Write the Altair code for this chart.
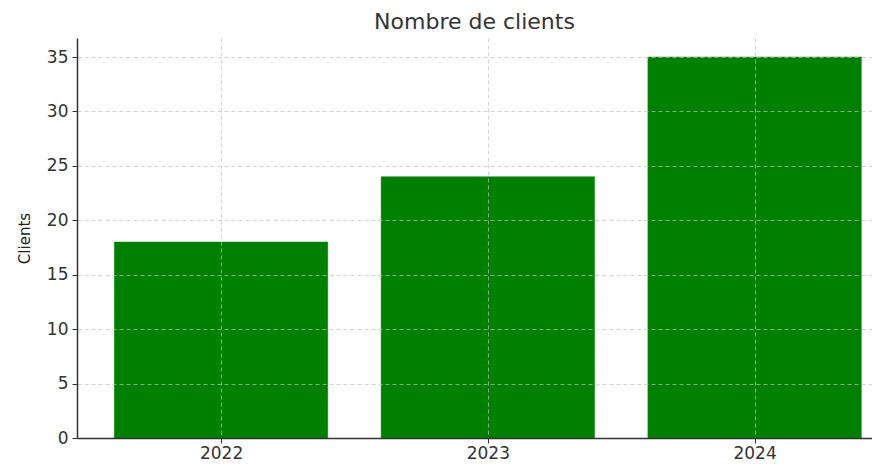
import altair as alt
import pandas as pd

years = [2022, 2023, 2024]
clients = [18, 24, 35]
y_ticks = [0, 5, 10, 15, 20, 25, 30, 35]

df = pd.DataFrame({"year": years, "clients": clients})

base = alt.Chart(df).transform_calculate(
    x0="datum.year - 0.4", x1="datum.year + 0.4"
)

bars = base.mark_bar(color="#008000", stroke="#008000", strokeWidth=0.5).encode(
    x=alt.X(
        "x0:Q",
        scale=alt.Scale(domain=[2021.46, 2024.44], nice=False, zero=False),
        axis=alt.Axis(
            values=years, format="d", title=None, grid=True,
            labelFontSize=17, labelColor="#333333", labelPadding=2,
            tickColor="#333333", tickSize=5, domainColor="#333333",
            domainWidth=1.5, gridColor="#c0c0c0", gridDash=[4, 3],
            gridOpacity=0.7, zindex=1,
        ),
    ),
    x2="x1:Q",
    y=alt.Y(
        "clients:Q",
        scale=alt.Scale(domain=[0, 36.75], nice=False),
        axis=alt.Axis(
            values=y_ticks, title="Clients", grid=True,
            labelFontSize=17, labelColor="#333333", labelPadding=4,
            tickColor="#333333", tickSize=5, domainColor="#333333",
            domainWidth=1.5, gridColor="#c0c0c0", gridDash=[4, 3],
            gridOpacity=0.7, zindex=1,
            titleFontSize=15, titleFontWeight="normal", titleColor="#222222",
            titlePadding=14,
        ),
    ),
    y2=alt.datum(0),
)

chart = bars.properties(
    width=795,
    height=400,
    title=alt.TitleParams(
        "Nombre de clients", fontSize=22, fontWeight="normal",
        color="#333333", anchor="middle", offset=4,
    ),
    autosize=alt.AutoSizeParams(type="none"),
    padding={"left": 69, "top": 30, "right": 0, "bottom": 25},
).configure(
    font="DejaVu Sans",
).configure_view(
    stroke=None,
)

chart.save("out.html", embed_options={"renderer": "svg", "actions": False})
